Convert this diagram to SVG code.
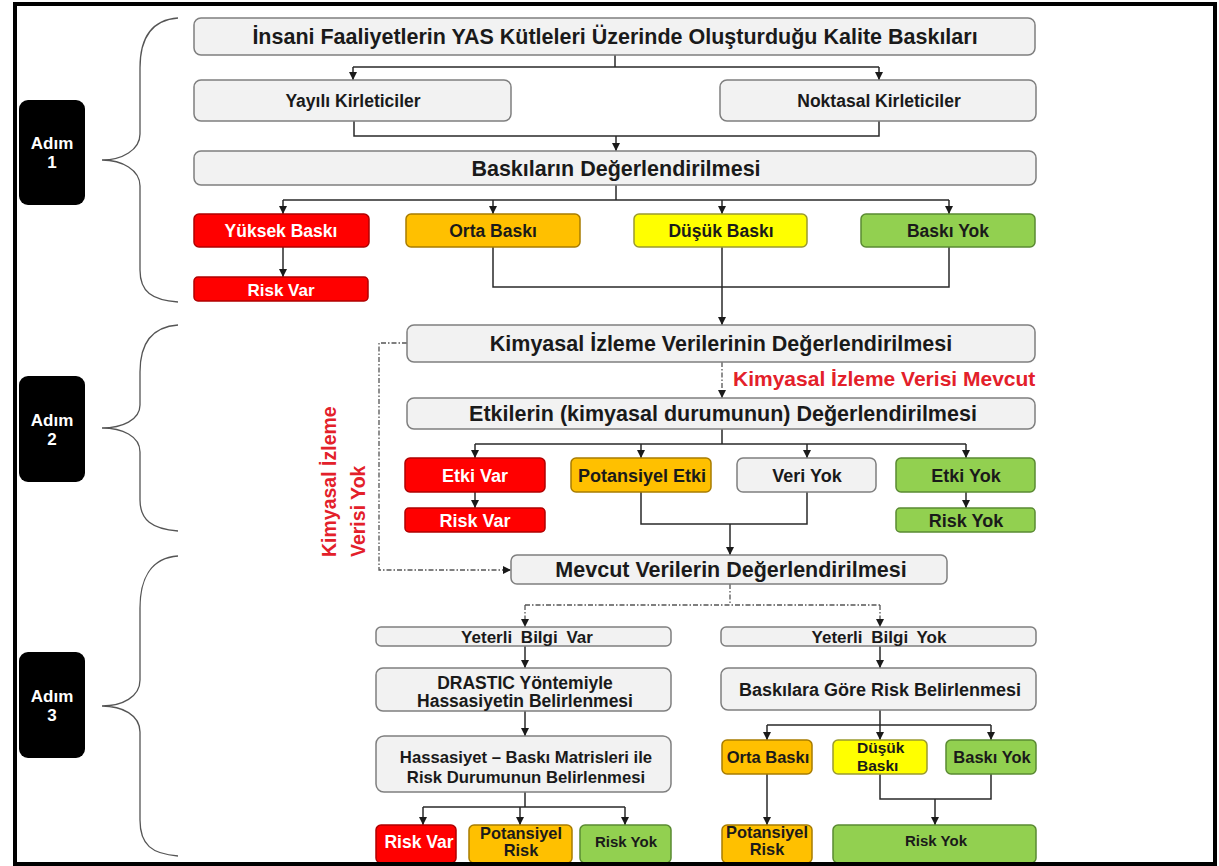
<svg xmlns="http://www.w3.org/2000/svg" width="1219" height="866" viewBox="0 0 1219 866">
<style>
.bx{fill:#f2f2f2;stroke:#7f7f7f;stroke-width:1.5}
.red{fill:#ff0000;stroke:#b00000;stroke-width:1.5}
.org{fill:#ffc000;stroke:#a87c00;stroke-width:1.5}
.yel{fill:#ffff00;stroke:#9a9a30;stroke-width:1.5}
.grn{fill:#92d050;stroke:#5a8a32;stroke-width:1.5}
.stp{fill:#000000}
text{font-family:"Liberation Sans",Arial,sans-serif;font-weight:bold;fill:#1a1a1a;text-anchor:middle}
.w{fill:#ffffff}
.lab{fill:#e3202a}
.c{fill:none;stroke:#2a2a2a;stroke-width:1.5}
.dd{fill:none;stroke:#555555;stroke-width:1.3;stroke-dasharray:5 2 1.5 2}
.br{fill:none;stroke:#555555;stroke-width:1.3}
</style>
<defs>
<marker id="ah" markerUnits="userSpaceOnUse" markerWidth="9" markerHeight="9" refX="8" refY="4.5" orient="auto">
<path d="M0,0.5 L8,4.5 L0,8.5 z" fill="#1a1a1a"/>
</marker>
</defs>
<rect x="0" y="0" width="1219" height="866" fill="#ffffff"/>

<g id="braces">
<path class="br" d="M178,18 C150,20 140,40 140,68 L140,134 C140,150 122,160 102,160 C122,160 140,170 140,186 L140,270 C140,292 152,300 178,302"/>
<path class="br" d="M178,325 C150,327 140,345 140,372 L140,405 C140,420 122,428 102,428 C122,428 140,436 140,452 L140,500 C140,520 152,529 178,531"/>
<path class="br" d="M178,556 C150,558 140,580 140,608 L140,680 C140,697 122,706 102,706 C122,706 140,715 140,732 L140,820 C140,845 152,854 178,856"/>
</g>

<g id="step1"><rect class="stp" x="19" y="100" width="66" height="105" rx="9"/><text class="w" x="52" y="149" font-size="17">Adım</text><text class="w" x="52" y="168" font-size="17">1</text></g>
<g id="step2"><rect class="stp" x="19" y="376" width="66" height="106" rx="9"/><text class="w" x="52" y="425.5" font-size="17">Adım</text><text class="w" x="52" y="444.5" font-size="17">2</text></g>
<g id="step3"><rect class="stp" x="19" y="652" width="66" height="106" rx="9"/><text class="w" x="52" y="701.5" font-size="17">Adım</text><text class="w" x="52" y="720.5" font-size="17">3</text></g>

<g id="connectors">
<path class="c" d="M615,55 V67 M353,67 H879"/>
<path class="c" d="M353,67 V80" marker-end="url(#ah)"/>
<path class="c" d="M879,67 V80" marker-end="url(#ah)"/>
<path class="c" d="M354,121 V136 H879 V121"/>
<path class="c" d="M616,136 V151" marker-end="url(#ah)"/>
<path class="c" d="M616,185 V200 M283,200 H949"/>
<path class="c" d="M283,200 V214" marker-end="url(#ah)"/>
<path class="c" d="M493,200 V214" marker-end="url(#ah)"/>
<path class="c" d="M722,200 V214" marker-end="url(#ah)"/>
<path class="c" d="M949,200 V214" marker-end="url(#ah)"/>
<path class="c" d="M283,247 V277" marker-end="url(#ah)"/>
<path class="c" d="M493,247 V287 H949 V247"/>
<path class="c" d="M722,247 V325" marker-end="url(#ah)"/>
<path class="dd" d="M722,362 V398" marker-end="url(#ah)"/>
<path class="c" d="M722,429 V444 M475,444 H966"/>
<path class="c" d="M475,444 V458" marker-end="url(#ah)"/>
<path class="c" d="M641,444 V458" marker-end="url(#ah)"/>
<path class="c" d="M807,444 V458" marker-end="url(#ah)"/>
<path class="c" d="M966,444 V458" marker-end="url(#ah)"/>
<path class="c" d="M475,492 V508" marker-end="url(#ah)"/>
<path class="c" d="M966,492 V508" marker-end="url(#ah)"/>
<path class="c" d="M641,492 V524 H807 V492"/>
<path class="c" d="M730,524 V555" marker-end="url(#ah)"/>
<path class="dd" d="M407,343 H379 V570 H511" marker-end="url(#ah)"/>
<path class="dd" d="M730,584 V605 M525,605 H880"/>
<path class="dd" d="M525,605 V627" marker-end="url(#ah)"/>
<path class="dd" d="M880,605 V627" marker-end="url(#ah)"/>
<path class="c" d="M525,646 V668" marker-end="url(#ah)"/>
<path class="c" d="M525,711 V736" marker-end="url(#ah)"/>
<path class="c" d="M525,792 V807 M423,807 H625"/>
<path class="c" d="M423,807 V825" marker-end="url(#ah)"/>
<path class="c" d="M520,807 V825" marker-end="url(#ah)"/>
<path class="c" d="M625,807 V825" marker-end="url(#ah)"/>
<path class="c" d="M880,646 V668" marker-end="url(#ah)"/>
<path class="c" d="M880,710 V725 M767,725 H991"/>
<path class="c" d="M767,725 V740" marker-end="url(#ah)"/>
<path class="c" d="M880,725 V740" marker-end="url(#ah)"/>
<path class="c" d="M991,725 V740" marker-end="url(#ah)"/>
<path class="c" d="M767,774 V825" marker-end="url(#ah)"/>
<path class="c" d="M880,774 V799 H991 V774"/>
<path class="c" d="M935,799 V825" marker-end="url(#ah)"/>
</g>

<g id="n-title"><rect class="bx" x="194" y="18" width="841" height="37" rx="7"/><text x="615" y="44" font-size="21.5">İnsani Faaliyetlerin YAS Kütleleri Üzerinde Oluşturduğu Kalite Baskıları</text></g>
<g id="n-yayili"><rect class="bx" x="194" y="80" width="317" height="41" rx="7"/><text x="353" y="107" font-size="17.5">Yayılı Kirleticiler</text></g>
<g id="n-noktasal"><rect class="bx" x="720" y="80" width="316" height="41" rx="7"/><text x="879" y="107" font-size="17.5">Noktasal Kirleticiler</text></g>
<g id="n-baskilar"><rect class="bx" x="194" y="151" width="842" height="34" rx="7"/><text x="616" y="175.5" font-size="21.5">Baskıların Değerlendirilmesi</text></g>
<g id="n-yuksek"><rect class="red" x="194" y="214" width="175" height="33" rx="5"/><text class="w" x="281" y="237" font-size="17.5">Yüksek Baskı</text></g>
<g id="n-orta"><rect class="org" x="406" y="214" width="174" height="33" rx="5"/><text x="493" y="237" font-size="17.5">Orta Baskı</text></g>
<g id="n-dusuk"><rect class="yel" x="634" y="214" width="173" height="33" rx="5"/><text x="721" y="237" font-size="17.5">Düşük Baskı</text></g>
<g id="n-baskiyok"><rect class="grn" x="861" y="214" width="174" height="33" rx="5"/><text x="948" y="237" font-size="17.5">Baskı Yok</text></g>
<g id="n-riskvar1"><rect class="red" x="194" y="277" width="174" height="24" rx="4"/><text class="w" x="281" y="295.5" font-size="17">Risk Var</text></g>

<g id="n-kimyasal"><rect class="bx" x="407" y="325" width="628" height="37" rx="7"/><text x="721" y="351" font-size="21.5">Kimyasal İzleme Verilerinin Değerlendirilmesi</text></g>
<g id="l-mevcut"><text class="lab" x="733" y="385.5" font-size="21" style="text-anchor:start">Kimyasal İzleme Verisi Mevcut</text></g>
<g id="n-etkiler"><rect class="bx" x="407" y="398" width="628" height="31" rx="7"/><text x="723" y="421" font-size="21.5">Etkilerin (kimyasal durumunun) Değerlendirilmesi</text></g>
<g id="n-etkivar"><rect class="red" x="405" y="458" width="140" height="34" rx="5"/><text class="w" x="475" y="481.5" font-size="18">Etki Var</text></g>
<g id="n-potetki"><rect class="org" x="571" y="458" width="140" height="34" rx="5"/><text x="642" y="481.5" font-size="18">Potansiyel Etki</text></g>
<g id="n-veriyok"><rect class="bx" x="737" y="458" width="139" height="34" rx="6"/><text x="807" y="481.5" font-size="18">Veri Yok</text></g>
<g id="n-etkiyok"><rect class="grn" x="896" y="458" width="139" height="34" rx="5"/><text x="966" y="481.5" font-size="18">Etki Yok</text></g>
<g id="n-riskvar2"><rect class="red" x="405" y="508" width="140" height="24" rx="4"/><text class="w" x="475" y="526.5" font-size="18">Risk Var</text></g>
<g id="n-riskyok2"><rect class="grn" x="896" y="508" width="139" height="24" rx="4"/><text x="966" y="526.5" font-size="18">Risk Yok</text></g>
<g id="l-veriyok"><text class="lab" transform="translate(336,557) rotate(-90)" font-size="19.5" style="text-anchor:start">Kimyasal İzleme</text><text class="lab" transform="translate(365,557) rotate(-90)" font-size="19.5" style="text-anchor:start">Verisi Yok</text></g>

<g id="n-mevcutveri"><rect class="bx" x="511" y="555" width="436" height="29" rx="6"/><text x="731" y="577" font-size="21.5">Mevcut Verilerin Değerlendirilmesi</text></g>
<g id="n-yeterlivar"><rect class="bx" x="376" y="627" width="295" height="19" rx="5"/><text x="527" y="642.5" font-size="17" word-spacing="4">Yeterli Bilgi Var</text></g>
<g id="n-drastic"><rect class="bx" x="376" y="668" width="295" height="43" rx="7"/><text x="525" y="688.5" font-size="17.5">DRASTIC Yöntemiyle</text><text x="525" y="706.5" font-size="17.5">Hassasiyetin Belirlenmesi</text></g>
<g id="n-matris"><rect class="bx" x="376" y="736" width="295" height="56" rx="8"/><text x="526" y="763" font-size="16.7">Hassasiyet – Baskı Matrisleri ile</text><text x="526" y="783" font-size="16.7">Risk Durumunun Belirlenmesi</text></g>
<g id="n-riskvar3"><rect class="red" x="376" y="825" width="80" height="38" rx="5"/><text class="w" x="419" y="848" font-size="17.5">Risk Var</text></g>
<g id="n-potrisk1"><rect class="org" x="469" y="825" width="103" height="38" rx="5"/><text x="521" y="839" font-size="16.4">Potansiyel</text><text x="521" y="856" font-size="16.4">Risk</text></g>
<g id="n-riskyok3"><rect class="grn" x="580" y="825" width="91" height="38" rx="5"/><text x="626" y="847" font-size="15">Risk Yok</text></g>

<g id="n-yeterliyok"><rect class="bx" x="721" y="627" width="315" height="19" rx="5"/><text x="879" y="642.5" font-size="17" word-spacing="4">Yeterli Bilgi Yok</text></g>
<g id="n-baskilara"><rect class="bx" x="721" y="668" width="315" height="42" rx="7"/><text x="880" y="696" font-size="18">Baskılara Göre Risk Belirlenmesi</text></g>
<g id="n-orta2"><rect class="org" x="722" y="740" width="90" height="34" rx="5"/><text x="768" y="763" font-size="16.5">Orta Baskı</text></g>
<g id="n-dusuk2"><rect class="yel" x="833" y="740" width="94" height="34" rx="5"/><text x="857" y="753" font-size="15.5" style="text-anchor:start">Düşük</text><text x="857" y="770.5" font-size="15.5" style="text-anchor:start">Baskı</text></g>
<g id="n-baskiyok2"><rect class="grn" x="946" y="740" width="90" height="34" rx="5"/><text x="992" y="763" font-size="16.5">Baskı Yok</text></g>
<g id="n-potrisk2"><rect class="org" x="722" y="825" width="90" height="38" rx="5"/><text x="767" y="838" font-size="16.4">Potansiyel</text><text x="767" y="855" font-size="16.4">Risk</text></g>
<g id="n-riskyok4"><rect class="grn" x="833" y="825" width="203" height="38" rx="5"/><text x="936" y="845.5" font-size="15">Risk Yok</text></g>

<rect id="frame" x="15" y="4" width="1200" height="860" fill="none" stroke="#000000" stroke-width="4"/>
</svg>
